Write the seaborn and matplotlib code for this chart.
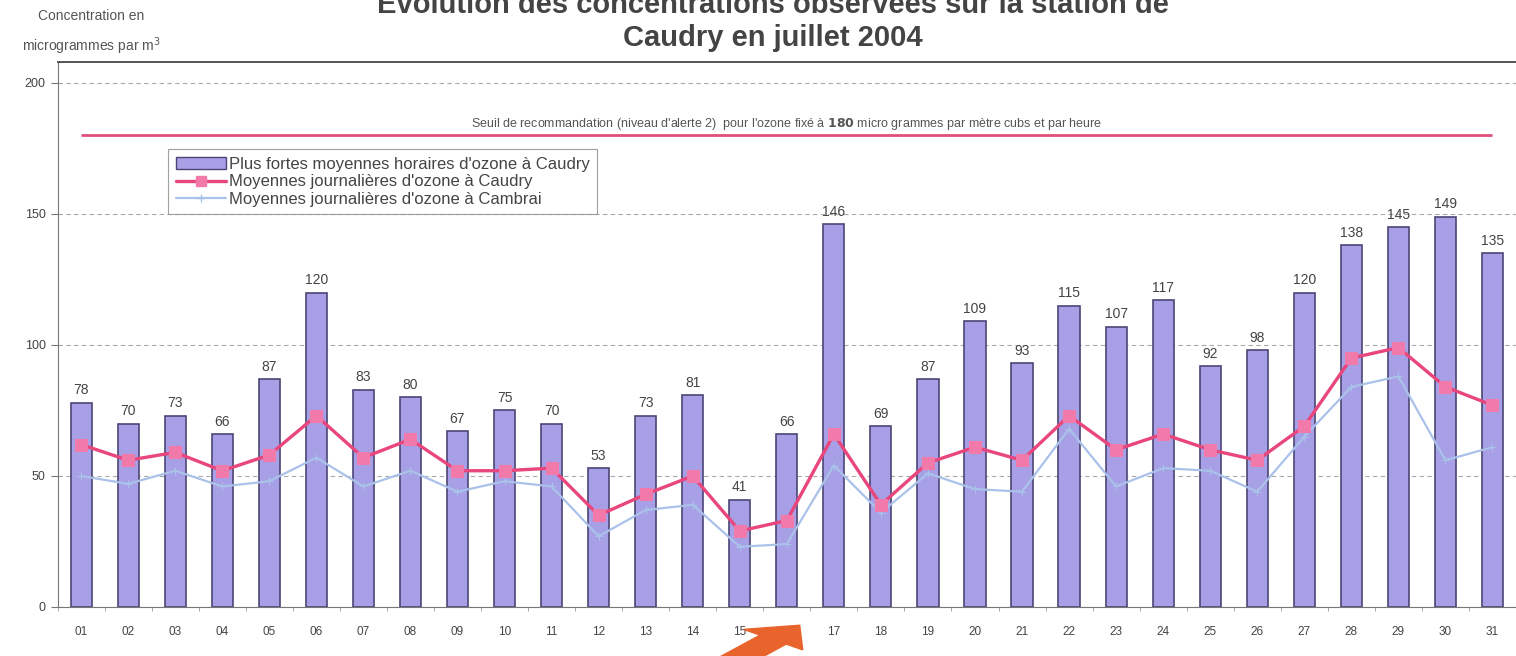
import numpy as np
import pandas as pd
import matplotlib.pyplot as plt
import seaborn as sns
from matplotlib.patches import FancyArrow
from matplotlib.lines import Line2D
from matplotlib.patches import Patch

# Data (ozone, July 2004)
days = ['01', '02', '03', '04', '05', '06', '07', '08', '09', '10', '11',
        '12', '13', '14', '15', '16', '17', '18', '19', '20', '21', '22',
        '23', '24', '25', '26', '27', '28', '29', '30', '31']
max_hourly_caudry = [78, 70, 73, 66, 87, 120, 83, 80, 67, 75, 70,
                     53, 73, 81, 41, 66, 146, 69, 87, 109, 93, 115,
                     107, 117, 92, 98, 120, 138, 145, 149, 135]
daily_caudry = [62, 56, 59, 52, 58, 73, 57, 64, 52, 52, 53,
                35, 43, 50, 29, 33, 66, 39, 55, 61, 56, 73,
                60, 66, 60, 56, 69, 95, 99, 84, 77]
daily_cambrai = [50, 47, 52, 46, 48, 57, 46, 52, 44, 48, 46,
                 27, 37, 39, 23, 24, 54, 36, 51, 45, 44, 68,
                 46, 53, 52, 44, 65, 84, 88, 56, 61]
threshold = 180

df = pd.DataFrame({'jour': days, 'max': max_hourly_caudry,
                   'caudry': daily_caudry, 'cambrai': daily_cambrai})

sns.set_style('white')
plt.rcParams['font.family'] = ['Liberation Sans', 'DejaVu Sans']

fig = plt.figure(figsize=(15.16, 6.56), dpi=100)
ax = fig.add_axes([0.038, 0.0747, 0.962, 0.8308])

bar_col = '#a7a0e6'
pink = '#e8467c'
blue = '#aac2ea'

sns.barplot(data=df, x='jour', y='max', color=bar_col, width=0.45,
            edgecolor='#4b4575', linewidth=1.2, ax=ax, saturation=1)

x = np.arange(len(days))
sns.lineplot(x=x, y=df['cambrai'], color=blue, lw=1.6, marker='+',
             markersize=6, markeredgecolor=blue, ax=ax)
sns.lineplot(x=x, y=df['caudry'], color=pink, lw=2.4, marker='s',
             markersize=8, markerfacecolor='#f27aaa', markeredgecolor='#f27aaa', ax=ax)

# value labels above bars
for i, v in enumerate(max_hourly_caudry):
    ax.text(i, v + 2, str(v), ha='center', va='bottom', fontsize=10, color='#444444')

# threshold line
ax.hlines(threshold, 0, len(days) - 1, color='#e0507a', lw=2)
ax.text(15, 184.5,
        "Seuil de recommandation (niveau d'alerte 2)  pour l'ozone fixé à "
        r"$\mathbf{180}$ micro grammes par mètre cubs et par heure",
        ha='center', va='center', fontsize=9, color='#555555')

ax.set_xlim(-0.36, 30.34)
ax.set_ylim(0, 208)
ax.set_yticks([0, 50, 100, 150, 200])
ax.yaxis.grid(True, ls=(0, (4, 3)), color='#aaaaaa', lw=0.8)
ax.set_axisbelow(True)
ax.set_xlabel('')
ax.set_ylabel('')
ax.tick_params(axis='x', length=0, labelsize=8.5, labelcolor='#444444', pad=14)
ax.tick_params(axis='y', length=5, labelsize=9, labelcolor='#444444', left=True,
               color='#777777')
ax.set_xticks(np.arange(-0.5, 31, 1), minor=True)
ax.tick_params(axis='x', which='minor', length=3, color='#999999', bottom=True)
for s in ['left', 'bottom']:
    ax.spines[s].set_color('#777777')
ax.spines['top'].set_color('#555555')
ax.spines['top'].set_linewidth(1.4)
ax.spines['right'].set_visible(False)

handles = [Patch(facecolor=bar_col, edgecolor='#4b4575'),
           Line2D([], [], color=pink, lw=2.4, marker='s', markersize=7,
                  markerfacecolor='#f27aaa', markeredgecolor='#f27aaa'),
           Line2D([], [], color=blue, lw=1.6, marker='+', markersize=6)]
labels = ["Plus fortes moyennes horaires d'ozone à Caudry",
          "Moyennes journalières d'ozone à Caudry",
          "Moyennes journalières d'ozone à Cambrai"]
leg = ax.legend(handles, labels, loc='upper left', bbox_to_anchor=(0.07, 0.855),
                fontsize=12, frameon=True, fancybox=False, handlelength=3.0,
                borderpad=0.45, labelspacing=0.15, handletextpad=0.2)
leg.get_frame().set_edgecolor('#888888')
leg.get_frame().set_linewidth(0.8)
for t in leg.get_texts():
    t.set_color('#444444')

fig.text(0.51, 0.967,
         "Evolution des concentrations observées sur la station de\nCaudry en juillet 2004",
         ha='center', va='center', fontsize=21, fontweight='bold', color='#444444',
         linespacing=1.2)
fig.text(0.06, 0.95, "Concentration en\nmicrogrammes par m$^3$", ha='center', va='center',
         fontsize=10, color='#555555', linespacing=1.8)

# orange arrow from the scan
fig.patches.append(FancyArrow(0.462, -0.035, 0.048, 0.06, width=0.022, head_width=0.05,
                              head_length=0.028, color='#e8642c',
                              transform=fig.transFigure, figure=fig))

fig.savefig('out.png', dpi=100)
